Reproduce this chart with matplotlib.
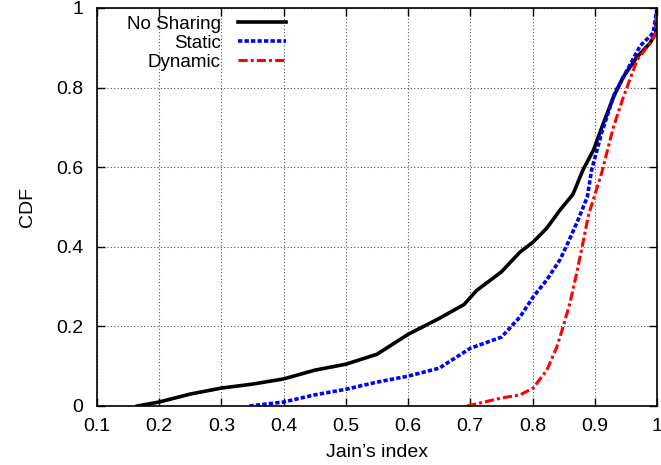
import matplotlib
matplotlib.use("Agg")
import matplotlib.pyplot as plt

plt.rcParams['font.family'] = ['Liberation Sans', 'DejaVu Sans']

# CDF curves
nosharing_x = [0.165, 0.2, 0.25, 0.3, 0.35, 0.4, 0.45, 0.5, 0.55, 0.6, 0.65, 0.69, 0.71,
               0.75, 0.78, 0.801, 0.823, 0.844, 0.865, 0.881, 0.898, 0.914, 0.930,
               0.946, 0.968, 0.989, 0.998, 1.0]
nosharing_y = [0.0, 0.01, 0.03, 0.045, 0.055, 0.068, 0.09, 0.105, 0.13, 0.18, 0.22, 0.255, 0.29,
               0.337, 0.387, 0.412, 0.447, 0.492, 0.532, 0.593, 0.643, 0.711, 0.776,
               0.827, 0.877, 0.912, 0.937, 1.0]

static_x = [0.345, 0.4, 0.45, 0.5, 0.55, 0.6, 0.65, 0.68, 0.7, 0.75, 0.78, 0.801,
            0.823, 0.844, 0.857, 0.873, 0.888, 0.895, 0.911, 0.932, 0.952, 0.973,
            0.994, 1.0]
static_y = [0.0, 0.01, 0.028, 0.042, 0.06, 0.075, 0.095, 0.125, 0.145, 0.173, 0.224, 0.274,
            0.317, 0.367, 0.41, 0.467, 0.525, 0.593, 0.686, 0.786, 0.844, 0.905,
            0.937, 1.0]

dynamic_x = [0.695, 0.75, 0.78, 0.801, 0.823, 0.839, 0.849, 0.86, 0.871, 0.881, 0.89,
             0.9, 0.911, 0.930, 0.946, 0.968, 0.989, 0.998, 1.0]
dynamic_y = [0.0, 0.02, 0.028, 0.045, 0.09, 0.148, 0.198, 0.258, 0.334, 0.41, 0.48,
             0.53, 0.585, 0.701, 0.776, 0.869, 0.912, 0.937, 1.0]

xticks = [0.1, 0.2, 0.3, 0.4, 0.5, 0.6, 0.7, 0.8, 0.9, 1.0]
xticklabels = ['0.1', '0.2', '0.3', '0.4', '0.5', '0.6', '0.7', '0.8', '0.9', '1']
yticks = [0, 0.2, 0.4, 0.6, 0.8, 1.0]
yticklabels = ['0', '0.2', '0.4', '0.6', '0.8', '1']

fig = plt.figure(figsize=(6.61, 4.65), dpi=100)
ax = fig.add_axes([0.1467, 0.1269, 0.8472, 0.8559])

ax.plot(nosharing_x, nosharing_y, color='black', lw=2.6, label='No Sharing')
ax.plot(static_x, static_y, color='#0000ff', lw=2.6, linestyle=(0, (1.2, 0.6)), label='Static')
ax.plot(dynamic_x, dynamic_y, color='#ff0000', lw=2.2, linestyle=(0, (3, 1, 1, 1)), label='Dynamic')

ax.set_xlim(0.1, 1.0)
ax.set_ylim(0, 1)
ax.set_xticks(xticks)
ax.set_xticklabels(xticklabels)
ax.set_yticks(yticks)
ax.set_yticklabels(yticklabels)
ax.tick_params(direction='in', length=6, width=1, labelsize=14, top=True, right=True)
ax.tick_params(axis='x', pad=9)
ax.tick_params(axis='y', pad=10)
ax.grid(True, color='#555555', linestyle=(0, (1, 2)), linewidth=0.8)
for s in ax.spines.values():
    s.set_linewidth(1.2)

ax.set_xlabel("Jain\u2019s index", fontsize=14, labelpad=6)
ax.set_ylabel('CDF', fontsize=14, labelpad=14)

ax.legend(loc='upper left', frameon=False, markerfirst=False, fontsize=13.5,
          handlelength=2.6, handletextpad=0.9, labelspacing=0.1, borderaxespad=0.0,
          bbox_to_anchor=(0.04, 1.0))

fig.savefig('out.png', dpi=100)
